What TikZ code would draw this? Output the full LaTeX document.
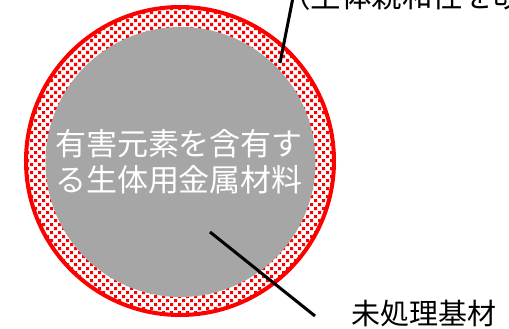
\documentclass[tikz,border=0pt]{standalone}
\usepackage{fontspec}
\setmainfont{Noto Sans CJK JP}
\definecolor{basegray}{HTML}{A6A6A6}
\begin{document}
\begin{tikzpicture}[x=1pt,y=-1pt,
  ringline/.style={draw=red,line width=4pt},
  leader/.style={draw=black,line width=3pt},
  lab/.style={font=\fontsize{29}{34}\selectfont,text=black,inner sep=0pt}]
\useasboundingbox (0,0) rectangle (509,329);
\coordinate (c) at (180,161);
\begin{scope}
\clip (c) circle[radius=153];
\fill[red] \foreach \j [evaluate=\j as \off using {4*mod(\j,2)}] in {0,...,80} {
  \foreach \i in {0,...,40} { (22+8*\i+\off, 3+4*\j) rectangle ++(3.2,3.2) } };
\end{scope}
\node[circle, ringline, minimum size=308, inner sep=0pt] (layer) at (c) {};
\node[circle, fill=basegray, minimum size=270, inner sep=0pt] (base) at (180.5,162) {};
\node[align=center, text=white, font=\fontsize{31}{36}\selectfont] (t) at (179,162) {有害元素を含有す\\る生体用金属材料};
\node[lab, anchor=west] (l1) at (351,314) {未処理基材};
\node[lab, font=\fontsize{30.5}{34}\selectfont, anchor=base west] (l2) at (280,8) {（生体親和性を改};
\coordinate (p1) at (280,63);
\coordinate (q1) at (293.5,-5);
\draw[leader] (p1) -- (q1);
\coordinate (p2) at (210,232);
\coordinate (q2) at (315,316);
\draw[leader] (p2) -- (q2);
\end{tikzpicture}
\end{document}
